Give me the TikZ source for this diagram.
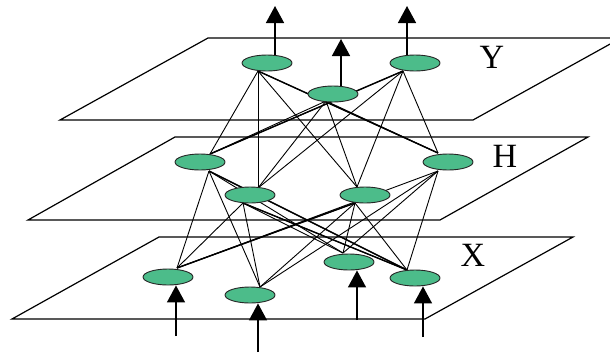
\documentclass[tikz,border=0pt]{standalone}
\usepackage{fontspec}
\setmainfont{Liberation Serif}
\usetikzlibrary{arrows.meta,shapes.geometric}
\definecolor{nodegreen}{RGB}{76,188,138}
\tikzset{
  plane/.style={draw=black, line width=1.2pt, line join=miter},
  unit/.style={ellipse, draw=black!85, line width=0.9pt, fill=nodegreen, minimum width=50pt, minimum height=16pt, inner sep=0pt},
  link/.style={draw=black, line width=0.9pt},
  strong/.style={draw=black, line width=1.4pt},
  iarrow/.style={draw=black, line width=1.5pt, -{Triangle[width=18pt,length=17pt]}},
  lab/.style={font=\fontsize{34}{34}\selectfont, inner sep=0pt}
}
\begin{document}
\begin{tikzpicture}[x=1pt,y=-1pt]
\useasboundingbox (0,0) rectangle (610,357);
\clip (0,0) rectangle (610,357);
% planes
\draw[plane] (208,38) -- (621,38) -- (473,120) -- (60,120) -- cycle;
\draw[plane] (175,137) -- (588,137) -- (440,220) -- (28,220) -- cycle;
\draw[plane] (159,237) -- (573,237) -- (425,319) -- (12,319) -- cycle;
% labels
\node[lab] (LY) at (492,57) {Y};
\node[lab] (LH) at (505,156) {H};
\node[lab] (LX) at (473,255) {X};
% anchor points of the connections
\coordinate (Y1b) at (258,71);
\coordinate (Y2b) at (326,101);
\coordinate (Y3b) at (403,71);
\coordinate (H1t) at (210,154);
\coordinate (H2t) at (258,188);
\coordinate (H3t) at (357,187);
\coordinate (H4t) at (438,153);
\coordinate (H1b) at (209,171);
\coordinate (H2b) at (243,203);
\coordinate (H3b) at (355,203);
\coordinate (H4b) at (438,171);
\coordinate (X1t) at (177,268);
\coordinate (X2t) at (260,287);
\coordinate (X3t) at (343,253);
\coordinate (X4t) at (407,270);
% hidden to output
\foreach \h in {H1t,H2t,H3t,H4t}{
  \foreach \y in {Y1b,Y2b,Y3b}{
    \draw[link] (\h) -- (\y);
  }
}
\draw[strong] (Y1b) -- (H4t);
\draw[strong] (H1t) -- (Y3b);
% input to hidden
\foreach \x in {X1t,X2t,X3t,X4t}{
  \foreach \h in {H1b,H2b,H3b,H4b}{
    \draw[link] (\x) -- (\h);
  }
}
\draw[strong] (X1t) -- (H3b);
\draw[strong] (H2b) -- (X4t);
\draw[strong] (H1b) -- (X4t);
% units
\node[unit] (Y1) at (267,63) {};
\node[unit] (Y2) at (333,94) {};
\node[unit] (Y3) at (415,63) {};
\node[unit] (H1) at (200,162) {};
\node[unit] (H2) at (250,195) {};
\node[unit] (H3) at (365,195) {};
\node[unit] (H4) at (448,162) {};
\node[unit] (X1) at (168,277) {};
\node[unit] (X2) at (250,295) {};
\node[unit] (X3) at (349,262) {};
\node[unit] (X4) at (415,278) {};
% output arrows
\coordinate (Y1o) at (275,6);
\coordinate (Y2o) at (341,39);
\coordinate (Y3o) at (407,6);
\draw[iarrow] (Y1.north -| Y1o) -- (Y1o);
\draw[iarrow] (Y2.north -| Y2o) -- (Y2o);
\draw[iarrow] (Y3.north -| Y3o) -- (Y3o);
% input arrows
\coordinate (X1i) at (176,336);
\coordinate (X2i) at (258,352);
\coordinate (X3i) at (357,320);
\coordinate (X4i) at (423,337);
\draw[iarrow] (X1i) -- (X1.south -| X1i);
\draw[iarrow] (X2i) -- (X2.south -| X2i);
\draw[iarrow] (X3i) -- (X3.south -| X3i);
\draw[iarrow] (X4i) -- (X4.south -| X4i);
\end{tikzpicture}
\end{document}
